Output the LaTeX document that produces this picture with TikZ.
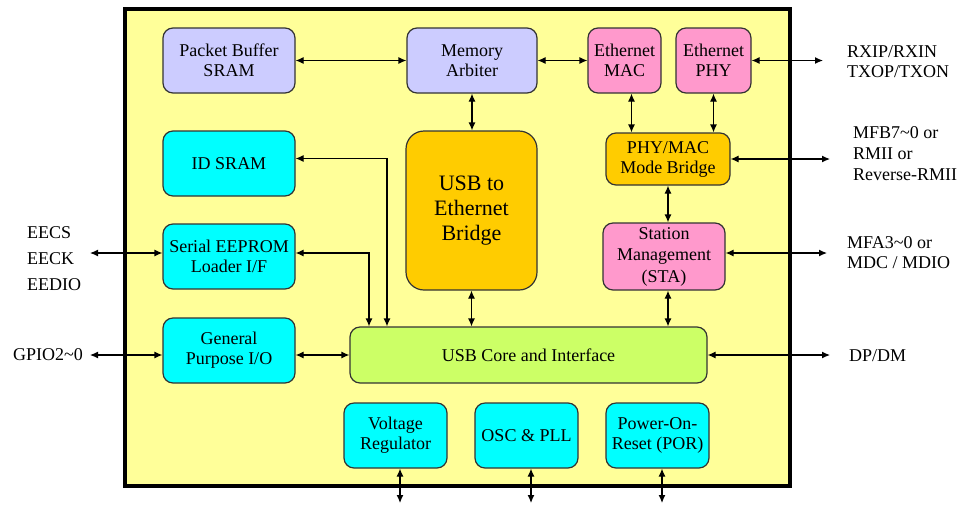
\documentclass[tikz,border=0pt]{standalone}
\usepackage{fontspec}
\setmainfont{LiberationSerif}[Extension=.ttf, UprightFont=*-Regular, BoldFont=*-Bold]
\usetikzlibrary{arrows.meta}

\definecolor{chipyellow}{HTML}{FFFF99}
\definecolor{memblue}{HTML}{CCCCFF}
\definecolor{ethpink}{HTML}{FF99CC}
\definecolor{auxcyan}{HTML}{00FFFF}
\definecolor{bridgeorange}{HTML}{FFCC00}
\definecolor{usbgreen}{HTML}{CCFF66}

\tikzset{
	block/.style={draw=black!80, line width=1.2pt, rounded corners=10pt, align=center,
		inner sep=0pt, font=\fontsize{18}{20}\selectfont},
	pinlabel/.style={align=left, inner sep=0pt, font=\fontsize{18}{20}\selectfont},
	link/.style={{Latex[length=8pt,width=7pt]}-{Latex[length=8pt,width=7pt]}, line width=1.2pt},
}

\begin{document}
\begin{tikzpicture}[
		x=1pt,
		y=-1pt,
	]
		\useasboundingbox (0,0) rectangle (963,507);
		\draw[line width=3.5pt, fill=chipyellow] (125,9) rectangle (790,486);
		
		% top row
		\node[block, fill=memblue, minimum width=132, minimum height=65] (pbuf) at (229,60.5) {Packet Buffer\\SRAM};
		\node[block, fill=memblue, minimum width=130, minimum height=65] (marb) at (472,60.5) {Memory\\Arbiter};
		\node[block, fill=ethpink, minimum width=73, minimum height=65] (mac) at (624.5,60.5) {Ethernet\\MAC};
		\node[block, fill=ethpink, minimum width=75, minimum height=65] (phy) at (713.5,60.5) {Ethernet\\PHY};
		
		% left column
		\node[block, fill=auxcyan, minimum width=132, minimum height=65] (idsram) at (229,163.5) {ID SRAM};
		\node[block, fill=auxcyan, minimum width=132, minimum height=65] (eeprom) at (229,256.5) {Serial EEPROM\\Loader I/F};
		\node[block, fill=auxcyan, minimum width=132, minimum height=65] (gpio) at (229,350.5) {General\\Purpose I/O};
		
		% centre and right
		\node[block, fill=bridgeorange, rounded corners=18pt, minimum width=131, minimum height=159,
			font=\fontsize{22}{25}\selectfont] (ubridge) at (471.5,210.5) {USB to\\Ethernet\\Bridge};
		\node[block, fill=bridgeorange, minimum width=124, minimum height=52] (mbridge) at (668,159) {PHY/MAC\\Mode Bridge};
		\node[block, fill=ethpink, minimum width=122, minimum height=67,
			font=\fontsize{18}{21.5}\selectfont] (sta) at (664,256.5) {Station\\Management\\(STA)};
		\node[block, fill=usbgreen, minimum width=357, minimum height=56] (usbcore) at (528.5,355) {USB Core and Interface};
		
		% bottom row
		\node[block, fill=auxcyan, minimum width=103, minimum height=65] (vreg) at (395.5,435.5) {Voltage\\Regulator};
		\node[block, fill=auxcyan, minimum width=103, minimum height=65] (osc) at (526.5,435.5) {OSC \& PLL};
		\node[block, fill=auxcyan, minimum width=103, minimum height=65] (por) at (657.5,435.5) {Power-On-\\Reset (POR)};
		
		% pins
		\coordinate (rxpin) at (823,60.5);
		\coordinate (mfbpin) at (830,159);
		\coordinate (mfapin) at (827,253);
		\coordinate (dppin) at (830,355);
		\coordinate (eepin) at (90,253);
		\coordinate (gpiopin) at (90,355);
		\coordinate (idbus) at (387,0);
		\coordinate (eebus) at (369,0);
		\coordinate (botpin) at (0,503);
		
		\node[pinlabel, anchor=west] (rxlbl) at (847,62) {RXIP/RXIN\\TXOP/TXON};
		\node[pinlabel, anchor=west, font=\fontsize{18}{21}\selectfont] (mfblbl) at (853,154) {MFB7\textasciitilde0 or\\RMII or\\Reverse-RMII};
		\node[pinlabel, anchor=west] (mfalbl) at (847,253) {MFA3\textasciitilde0 or\\MDC / MDIO};
		\node[pinlabel, anchor=west] (dplbl) at (849,356) {DP/DM};
		\node[pinlabel, anchor=west, font=\fontsize{18}{26}\selectfont] (eelbl) at (27,259) {EECS\\EECK\\EEDIO};
		\node[pinlabel, anchor=east] (gpiolbl) at (83,355) {GPIO2\textasciitilde0};
		
		% connections
		\draw[link] (pbuf) -- (marb);
		\draw[link] (marb) -- (mac);
		\draw[link] (marb.south) -- (marb.south |- ubridge.north);
		\draw[link] ([xshift=7pt]mac.south) -- ([xshift=7pt]mac.south |- mbridge.north);
		\draw[link] (phy.south) -- (phy.south |- mbridge.north);
		\draw[link] (phy) -- (rxpin);
		\draw[link] (mbridge) -- (mfbpin);
		\draw[link] (mbridge.south) -- (mbridge.south |- sta.north);
		\draw[link] (sta.east |- mfapin) -- (mfapin);
		\draw[link] (mbridge.south |- sta.south) -- (mbridge.south |- usbcore.north);
		\draw[link] (ubridge.south) -- (ubridge.south |- usbcore.north);
		\draw[link] ([yshift=5pt]idsram.east) -| (idbus |- usbcore.north);
		\draw[link] (eeprom.east |- eepin) -| (eebus |- usbcore.north);
		\draw[link] (eeprom.west |- eepin) -- (eepin);
		\draw[link] (gpio.east |- usbcore.west) -- (usbcore.west);
		\draw[link] (gpio.west |- gpiopin) -- (gpiopin);
		\draw[link] (usbcore) -- (dppin);
		\foreach \n in {vreg,osc,por}{
			\draw[link] ([xshift=4.5pt]\n.south) -- ([xshift=4.5pt]\n.south |- botpin);
		}
	\end{tikzpicture}
\end{document}
